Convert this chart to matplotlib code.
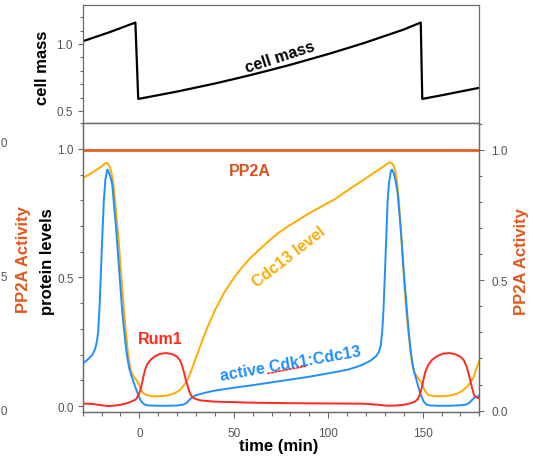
import matplotlib
matplotlib.use("Agg")
import matplotlib.pyplot as plt
from matplotlib.ticker import MultipleLocator, FixedLocator, FormatStrFormatter

plt.rcParams['font.family'] = ['Liberation Sans', 'DejaVu Sans']

# ---------------- data ----------------
mass_time = [-30, -16, -2.1, -0.6, 10, 20, 30, 40, 50, 60, 70, 80, 90, 100, 110, 120,
             130, 140, 149.0, 149.8, 160, 170, 180]
mass = [1.02, 1.087, 1.16, 0.59, 0.618, 0.645, 0.675, 0.705, 0.738, 0.772, 0.808, 0.845,
        0.885, 0.925, 0.968, 1.012, 1.06, 1.108, 1.16, 0.59, 0.617, 0.645, 0.673]

cdk_time = [-30, -27, -25, -23.5, -22.5, -21.8, -21, -20.2, -19.5, -18.8, -18, -17,
            -16.3, -15.3, -14.3, -13.3, -12.3, -11.3, -10.3, -9.3, -8.3, -7.3, -6.3,
            -5.3, -4.3, -3.3, -2.3, -1.3, -0.3, 0.7, 1.7, 3, 5, 10, 15, 20, 23, 25,
            26.5, 28, 30, 35, 40, 50, 60, 70, 80, 90, 100, 110, 115, 118.5, 122.3,
            125.3, 126.8, 127.8, 128.6, 129.3, 130.1, 130.8, 131.4, 132.2, 133.2,
            133.8, 134.7, 135.7, 136.7, 137.7, 138.7, 139.6, 140.6, 141.6, 142.6,
            143.6, 144.6, 145.6, 146.6, 147.5, 148.5, 149.5, 150.5, 152, 154, 158,
            163, 168, 172.8, 174.7, 176.2, 177.7, 180]
cdk_active = [0.165, 0.183, 0.198, 0.22, 0.25, 0.29, 0.40, 0.55, 0.68, 0.80, 0.88, 0.92,
              0.912, 0.89, 0.86, 0.77, 0.69, 0.59, 0.49, 0.39, 0.31, 0.24, 0.185,
              0.145, 0.12, 0.098, 0.077, 0.057, 0.038, 0.022, 0.012, 0.005, 0.002, 0.001,
              0.001, 0.002, 0.005, 0.012, 0.024, 0.034, 0.042, 0.052, 0.06, 0.071, 0.081,
              0.092, 0.103, 0.114, 0.127, 0.141, 0.152, 0.162, 0.176, 0.193, 0.21, 0.235,
              0.29, 0.38, 0.53, 0.67, 0.79, 0.87, 0.915, 0.92, 0.905, 0.875, 0.83, 0.75,
              0.66, 0.565, 0.47, 0.38, 0.29, 0.22, 0.165, 0.13, 0.105, 0.08, 0.055, 0.035,
              0.018, 0.006, 0.002, 0.001, 0.001, 0.002, 0.005, 0.012, 0.024, 0.034, 0.04]

cdc13_time = [-30, -25, -20, -18, -17, -16, -15, -14, -13, -12, -11, -10, -9, -8, -7, -6,
              -5, -4, -3, -2, -1, 0, 1, 2, 4, 7, 10, 14, 17, 20, 22, 24, 26, 28, 30, 33,
              36, 40, 45, 50, 54.2, 59.1, 64.1, 69, 73.9, 78.9, 83.8, 88.8, 93.7, 98.6,
              103.6, 108.5, 113.5, 118.4, 123.3, 128.3, 131.2, 132.7, 133.7, 134.7,
              135.7, 136.7, 137.7, 138.7, 139.6, 140.6, 141.6, 142.6, 143.6, 144.6,
              145.6, 146.6, 147.5, 148.5, 149.5, 150.5, 151.5, 153, 155.9, 159.9, 163.9,
              167.8, 170.8, 173.2, 175.2, 176.9, 178.2, 180]
cdc13_level = [0.886, 0.908, 0.932, 0.945, 0.946, 0.935, 0.915, 0.88, 0.81, 0.73, 0.65,
               0.55, 0.455, 0.36, 0.28, 0.205, 0.155, 0.128, 0.115, 0.105, 0.095, 0.08,
               0.062, 0.05, 0.042, 0.038, 0.038, 0.04, 0.045, 0.055, 0.066, 0.085, 0.11,
               0.148, 0.188, 0.248, 0.305, 0.372, 0.442, 0.498, 0.538, 0.578, 0.612,
               0.645, 0.675, 0.70, 0.722, 0.745, 0.765, 0.785, 0.805, 0.83, 0.855, 0.878,
               0.903, 0.927, 0.942, 0.948, 0.945, 0.935, 0.91, 0.86, 0.77, 0.66, 0.55,
               0.44, 0.35, 0.28, 0.21, 0.16, 0.13, 0.12, 0.11, 0.10, 0.09, 0.07, 0.055,
               0.043, 0.038, 0.038, 0.04, 0.047, 0.058, 0.073, 0.09, 0.11, 0.14, 0.176]

rum1_time = [-30, -25, -20, -17, -14, -10, -7, -4, -2, -1, 0, 1, 2, 3, 4, 6, 8, 11, 14,
             17, 20, 21.5, 22.5, 23.5, 24.5, 25.5, 26.5, 27.5, 29, 32, 40, 59.1, 78.9,
             98.6, 118.4, 126.3, 131.2, 136.2, 141.1, 144.1, 146.1, 147.5, 148.5, 149.5,
             150.5, 151.5, 153, 155, 157.9, 160.9, 164.3, 167.8, 170.3, 171.8, 173.2,
             174.2, 175.2, 176, 176.9, 177.7, 178.7, 180]
rum1 = [0.01, 0.008, 0.003, 0.0, 0.001, 0.005, 0.01, 0.018, 0.025, 0.035, 0.05, 0.075,
        0.11, 0.14, 0.16, 0.18, 0.193, 0.203, 0.206, 0.203, 0.192, 0.178, 0.16, 0.135,
        0.105, 0.08, 0.055, 0.04, 0.03, 0.022, 0.017, 0.013, 0.011, 0.01, 0.009, 0.005,
        0.001, 0.002, 0.006, 0.012, 0.018, 0.028, 0.045, 0.07, 0.105, 0.135, 0.16, 0.18,
        0.195, 0.204, 0.206, 0.2, 0.19, 0.178, 0.155, 0.13, 0.1, 0.075, 0.05, 0.038,
        0.033, 0.03]

pp2a_time = [-30, 180]
pp2a = [1.0, 1.0]

x_major = [0, 50, 100, 150]

# ---------------- styling ----------------
C_BLUE = '#1e8fff'
C_ORANGE = '#ffab00'
C_RED = '#ff2a1c'
C_PP2A = '#e2581c'
C_SPINE = '#6a6a6a'
C_TICK = '#555555'
LBL = dict(fontsize=12, fontweight='bold')
W, H = 533, 460

fig = plt.figure(figsize=(W / 100, H / 100), dpi=100)
L, R = 82.7, 479.3
ax_top = fig.add_axes([L / W, (H - 123.5) / H, (R - L) / W, (123.5 - 6) / H])
ax = fig.add_axes([L / W, (H - 413) / H, (R - L) / W, (413 - 123.5) / H])
ax_r = ax.twinx()
ax_o = ax.twinx()


def style(a):
    for s in a.spines.values():
        s.set_color(C_SPINE)
        s.set_linewidth(0.9)
    a.tick_params(which='both', colors=C_SPINE, labelcolor=C_TICK, labelsize=8.5,
                  direction='out', width=0.8)
    a.tick_params(which='major', length=3.5)
    a.tick_params(which='minor', length=2.3)


for a in (ax_top, ax, ax_r):
    style(a)

# top panel: cell mass
ax_top.plot(mass_time, mass, color='black', lw=1.6)
ax_top.set_xlim(-30, 180)
ax_top.set_ylim(0.414, 1.291)
ax_top.xaxis.set_major_locator(FixedLocator(x_major))
ax_top.xaxis.set_minor_locator(MultipleLocator(10))
ax_top.tick_params(axis='x', labelbottom=False)
ax_top.tick_params(axis='x', which='major', length=4.5)
ax_top.tick_params(axis='x', which='minor', length=3)
ax_top.yaxis.set_major_locator(FixedLocator([0.5, 1.0]))
ax_top.yaxis.set_minor_locator(MultipleLocator(0.1))
ax_top.set_ylabel('cell mass', **LBL)
ax_top.yaxis.set_label_coords((43 - L) / (R - L), (123.5 - 68) / (123.5 - 6))
ax_top.yaxis.label.set_va('center')
ax_top.text(74.5, 0.903, 'cell mass', rotation=18, ha='center', va='center',
            fontsize=11.5, fontweight='bold', color='black')

# lower panel
ax.plot(cdc13_time, cdc13_level, color=C_ORANGE, lw=1.4, zorder=3)
ax.plot(cdk_time, cdk_active, color=C_BLUE, lw=1.4, zorder=4)
ax.plot(rum1_time, rum1, color=C_RED, lw=1.4, zorder=5)
ax.set_xlim(-30, 180)
ax.set_ylim(-0.0233, 1.103)
ax.xaxis.set_major_locator(FixedLocator(x_major))
ax.xaxis.set_minor_locator(MultipleLocator(10))
ax.yaxis.set_major_locator(FixedLocator([0.0, 0.5, 1.0]))
ax.yaxis.set_minor_locator(MultipleLocator(0.1))
ax.yaxis.set_major_formatter(FormatStrFormatter('%.1f'))
ax.tick_params(axis='x', which='major', length=4.5, pad=6.5)
ax.tick_params(axis='x', which='minor', length=3)
ax.tick_params(axis='y', pad=3)
ax.set_xlabel('time (min)', **LBL)
ax.xaxis.set_label_coords((279 - L) / (R - L), (413 - 446.5) / (413 - 123.5))
ax.xaxis.label.set_va('center')
ax.set_ylabel('protein levels', **LBL)
ax.yaxis.set_label_coords((47.5 - L) / (R - L), (413 - 262) / (413 - 123.5))
ax.yaxis.label.set_va('center')

# right axis: PP2A activity
ax_r.plot(pp2a_time, pp2a, color=C_PP2A, lw=1.9, solid_capstyle='butt')
ax_r.set_ylim(-0.005, 1.104)
ax_r.yaxis.set_major_locator(FixedLocator([0.0, 0.5, 1.0]))
ax_r.yaxis.set_minor_locator(MultipleLocator(0.1))
ax_r.yaxis.set_major_formatter(FormatStrFormatter('%.1f'))
ax_r.tick_params(axis='y', pad=5)
ax_r.set_ylabel('PP2A Activity', color=C_PP2A, **LBL)
ax_r.yaxis.set_label_coords((521.5 - L) / (R - L), (413 - 262) / (413 - 123.5))
ax_r.yaxis.label.set_va('center')

# outer left axis (mostly outside the figure, as in the reference)
for s in ax_o.spines.values():
    s.set_visible(False)
ax_o.yaxis.set_ticks_position('left')
ax_o.spines['left'].set_position(('axes', (8 - L) / (R - L)))
ax_o.set_ylim(-0.011, 1.073)
ax_o.yaxis.set_major_locator(FixedLocator([0.0, 0.5, 1.0]))
ax_o.yaxis.set_major_formatter(FormatStrFormatter('%.1f'))
ax_o.tick_params(axis='y', length=0, pad=0, labelsize=8.5, labelcolor=C_TICK,
                 labelleft=True, labelright=False)
ax_o.set_ylabel('PP2A Activity', color=C_PP2A, **LBL)
ax_o.yaxis.set_label_position('left')
ax_o.yaxis.set_label_coords((24 - L) / (R - L), (413 - 260) / (413 - 123.5))
ax_o.yaxis.label.set_va('center')

# in-plot annotations
ax.text(58.7, 0.916, 'PP2A', color='#d8531e', fontsize=11.5, fontweight='bold',
        ha='center', va='center')
ax.text(11.3, 0.263, 'Rum1', color=C_RED, fontsize=11.5, fontweight='bold',
        ha='center', va='center')
ax.text(79.2, 0.582, 'Cdc13 level', color=C_ORANGE, fontsize=11.5, fontweight='bold',
        ha='center', va='center', rotation=38)
ax.text(79.8, 0.167, 'active Cdk1:Cdc13', color=C_BLUE, fontsize=11.5, fontweight='bold',
        ha='center', va='center', rotation=10)
# red dotted spell-check underline under "Cdk1" seen in the reference
ax.annotate('', xy=(88.8, 0.156), xytext=(68.1, 0.127),
            arrowprops=dict(arrowstyle='-', color=C_RED, lw=1.2, linestyle=(0, (1, 1.2)),
                            shrinkA=0, shrinkB=0), zorder=6)

fig.savefig('out.png', dpi=100)
